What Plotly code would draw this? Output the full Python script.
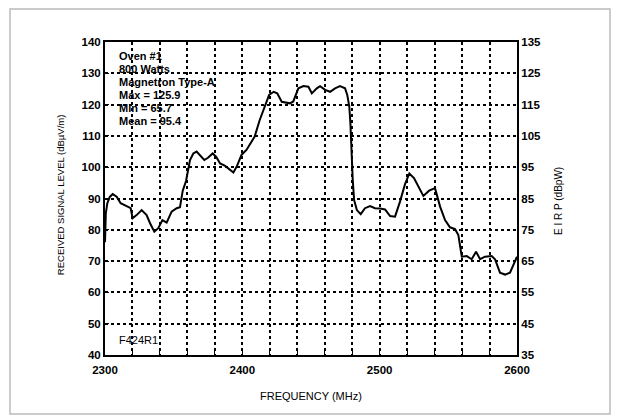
import plotly.graph_objects as go

# frequency (MHz) and received level (dBuV/m)
freq = [2300, 2300.6, 2301.7, 2303.5, 2305.6, 2308.5, 2311.4, 2315.8, 2318.7, 2320.1,
        2323, 2326.7, 2330.3, 2332.8, 2335.9, 2338.8, 2341.8, 2344.9, 2348.5, 2352.2,
        2354.6, 2356.6, 2359, 2361.9, 2364.3, 2366.7, 2369, 2372.3, 2375, 2378.4,
        2381, 2383.8, 2387.5, 2391, 2393.5, 2395.9, 2399.5, 2403, 2406.7, 2409,
        2412.6, 2416.5, 2419.5, 2422.8, 2425.4, 2428.7, 2434.7, 2437.1, 2440.8, 2444.5,
        2448.1, 2450.6, 2454.2, 2456.6, 2460.3, 2463.9, 2467.5, 2471.1, 2474.8, 2476.4,
        2477.9, 2478.7, 2479.5, 2480.4, 2481.4, 2483.4, 2486.2, 2489.3, 2493, 2496.6,
        2500.3, 2503.9, 2507.6, 2511.2, 2514.8, 2518.4, 2521.6, 2525, 2531.8, 2536,
        2540.3, 2544, 2547.6, 2551.2, 2554.9, 2557.3, 2559.8, 2563.4, 2567, 2570.2,
        2573.1, 2576.7, 2581.6, 2584, 2587.6, 2591.3, 2594.9, 2598.5, 2600]
level = [76, 85.3, 88.5, 90.5, 91.4, 90.6, 88.5, 87.6, 86.9, 83.7,
         84.7, 86.3, 84.7, 82.1, 79.4, 80.5, 83.1, 82.3, 85.8, 86.9,
         87.2, 92.5, 95.6, 102.3, 104.4, 105, 103.9, 102.3, 103, 104.4,
         103.3, 101.2, 100.4, 99.1, 98.3, 100.2, 104, 105.5, 108.2, 109.8,
         115, 119.9, 123.1, 124.1, 123.6, 120.9, 120.4, 121, 125.2, 125.9,
         125.7, 123.6, 125.2, 125.9, 124.7, 124.1, 125.2, 125.9, 125.2, 123.1,
         119.3, 114, 104.4, 95.9, 89.5, 86.3, 85, 86.9, 87.6, 86.9,
         86.8, 86.5, 84.4, 84.2, 89, 94.5, 98.0, 96.5, 90.8, 92.5,
         93.3, 87.4, 83.1, 80.8, 80.2, 78.3, 71.4, 71.6, 70.6, 73,
         70.6, 71.4, 71.6, 70.6, 66.3, 65.7, 66.3, 69.8, 71.4]

info_lines = ["Oven #1", "800 Watts", "Magnetron Type-A",
              "Max = 125.9", "Min = 65.7", "Mean = 95.4"]
info_y = [135.5, 131.4, 127.2, 123.1, 118.9, 114.8]

x_ticks = list(range(2300, 2601, 20))
x_labels = [str(v) if v % 100 == 0 else "" for v in x_ticks]
left_ticks = list(range(40, 141, 10))
right_ticks = list(range(35, 136, 10))

font = "Liberation Sans, Arial"
tickfont = dict(family=font, size=11.5, color="black", weight="bold")

fig = go.Figure()
fig.add_trace(go.Scatter(x=freq, y=level, mode="lines",
                         line=dict(color="black", width=2), showlegend=False))
# invisible copy on the EIRP axis so that axis is drawn
fig.add_trace(go.Scatter(x=freq, y=[v - 5 for v in level], mode="lines", yaxis="y2",
                         line=dict(color="rgba(0,0,0,0)", width=0), showlegend=False,
                         hoverinfo="skip"))

axis_common = dict(showline=True, linecolor="black", linewidth=2,
                   showgrid=True, gridcolor="black", gridwidth=1.5, griddash="dot",
                   ticks="inside", ticklen=4, tickcolor="black", zeroline=False,
                   tickfont=tickfont)

fig.update_layout(
    width=620, height=420,
    margin=dict(l=97, r=111, t=34, b=73),
    paper_bgcolor="white", plot_bgcolor="white",
    font=dict(family=font, color="black"),
    xaxis=dict(range=[2300, 2600], tickvals=x_ticks, ticktext=x_labels,
               mirror=True, ticklabelstandoff=3, **axis_common),
    yaxis=dict(range=[40, 140], tickvals=left_ticks, **axis_common),
    yaxis2=dict(range=[35, 135], tickvals=right_ticks, overlaying="y", side="right",
                showline=True, linecolor="black", linewidth=2, showgrid=False,
                ticks="", zeroline=False, tickfont=tickfont),
)

for txt, yv in zip(info_lines, info_y):
    fig.add_annotation(x=2308.5, y=yv, text=txt, showarrow=False, xanchor="left",
                       yanchor="middle", font=dict(size=11, weight="bold"))
fig.add_annotation(x=2308.5, y=44.8, text="F424R1", showarrow=False, xanchor="left",
                   yanchor="middle", font=dict(size=11))

fig.add_annotation(xref="paper", yref="paper", x=-0.109, y=0.511, textangle=-90,
                   xanchor="center", yanchor="middle",
                   text="RECEIVED SIGNAL LEVEL (dBµV/m)", showarrow=False,
                   font=dict(size=9.5))
fig.add_annotation(xref="paper", yref="paper", x=1.0995, y=0.492, textangle=-90,
                   xanchor="center", yanchor="middle",
                   text="E I R P (dBpW)", showarrow=False, font=dict(size=10))
fig.add_annotation(xref="paper", yref="paper", x=0.5, y=-0.131,
                   xanchor="center", yanchor="middle",
                   text="FREQUENCY (MHz)", showarrow=False, font=dict(size=11))

# light grey frame around the whole figure
fig.add_shape(type="rect", xref="paper", yref="paper", x0=-0.2306, x1=1.2257,
              y0=-0.1885, y1=1.1054, line=dict(color="#bbbbbb", width=1.5))

fig.write_html("out.html")
